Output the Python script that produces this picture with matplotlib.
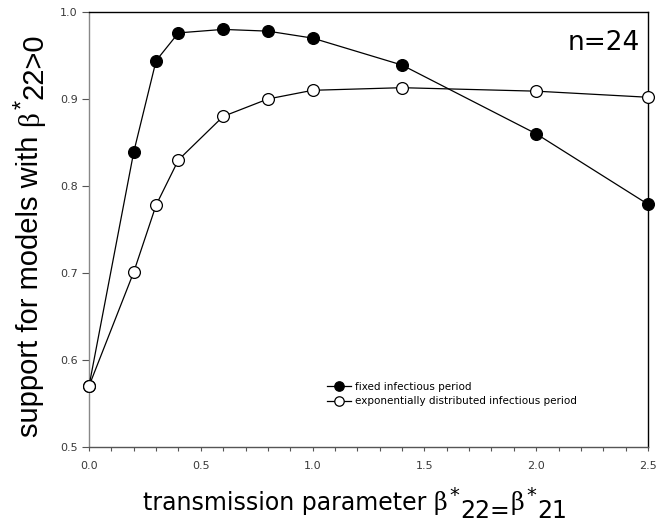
import matplotlib
matplotlib.use("Agg")
import matplotlib.pyplot as plt
from matplotlib.ticker import MultipleLocator
from matplotlib.transforms import IdentityTransform

plt.rcParams['font.family'] = ['DejaVu Sans']

x_vals = [0.0, 0.2, 0.3, 0.4, 0.6, 0.8, 1.0, 1.4, 2.0, 2.5]
fixed = [0.57, 0.839, 0.944, 0.976, 0.980, 0.978, 0.970, 0.939, 0.860, 0.779]
expo = [0.57, 0.701, 0.778, 0.830, 0.880, 0.900, 0.910, 0.913, 0.909, 0.902]
x_ticks = [0.0, 0.5, 1.0, 1.5, 2.0, 2.5]
y_ticks = [0.5, 0.6, 0.7, 0.8, 0.9, 1.0]
labels = ['fixed infectious period', 'exponentially distributed infectious period']

W, H = 658, 525
fig = plt.figure(figsize=(W / 100, H / 100), dpi=100)
ax = fig.add_axes([89 / W, 1 - 447 / H, (648 - 89) / W, (447 - 12) / H])

ax.plot(x_vals, fixed, '-o', color='black', lw=0.9, ms=8.5, mfc='black', mec='black',
        mew=0.9, label=labels[0], clip_on=False, zorder=3)
ax.plot(x_vals, expo, '-o', color='black', lw=0.9, ms=8.5, mfc='white', mec='black',
        mew=0.9, label=labels[1], clip_on=False, zorder=4)

ax.set_xlim(0, 2.5)
ax.set_ylim(0.5, 1.0)
ax.set_xticks(x_ticks)
ax.set_yticks(y_ticks)
ax.xaxis.set_minor_locator(MultipleLocator(0.1))
ax.tick_params(axis='both', which='both', direction='out', labelsize=8, labelcolor='#3a3a3a',
               color='#555555', width=0.8)
ax.tick_params(axis='x', which='both', length=3, pad=7)
ax.tick_params(axis='y', which='major', length=5, pad=3)
ax.spines['left'].set_color('#888888')
ax.spines['bottom'].set_color('#555555')
for s in ['top', 'right']:
    ax.spines[s].set_color('black')
for s in ax.spines.values():
    s.set_linewidth(1.0)

ax.text((640 - 89) / 559, (447 - 50) / 435, 'n=24', transform=ax.transAxes,
        ha='right', va='baseline', fontsize=19)

ax.legend(loc='upper left', bbox_to_anchor=(327 / W, 1 - 382 / H), bbox_transform=fig.transFigure,
          frameon=False, fontsize=7.5, borderpad=0, borderaxespad=0,
          handlelength=2.3, handletextpad=0.35, labelspacing=0.42, markerscale=0.8)

fig.canvas.draw()
rend = fig.canvas.get_renderer()

# x label: (text, raise_px, gap_after_px, family, size)
xpieces = [('transmission parameter', 0, 7, 'DejaVu Sans', 17),
           ('β', 0, 2, 'DejaVu Serif', 17),
           ('*', 9, 1, 'DejaVu Sans', 14),
           ('22=', -8, 1, 'DejaVu Sans', 17),
           ('β', 0, 2, 'DejaVu Serif', 17),
           ('*', 9, 1, 'DejaVu Sans', 14),
           ('21', -8, 0, 'DejaVu Sans', 17)]
cx, base = 143, 510
for s, dy, gap, fam, size in xpieces:
    t = fig.text(cx, H - base + dy, s, transform=IdentityTransform(), ha='left', va='baseline',
                 family=fam, fontsize=size)
    cx += t.get_window_extent(rend).width + gap

# y label (rotated): baseline at x=38, starts at y=437 going up
ypieces = [('support for models with', 0, 10, 'Liberation Sans', 21),
           ('β', 0, 2, 'Liberation Serif', 21),
           ('*', 9, 1, 'Liberation Sans', 17),
           ('22>0', -4, 0, 'Liberation Sans', 21)]
cy, xb = 437, 38
for s, dy, gap, fam, size in ypieces:
    t = fig.text(xb - dy, H - cy, s, transform=IdentityTransform(), rotation=90,
                 rotation_mode='anchor', ha='left', va='baseline', family=fam, fontsize=size)
    cy -= t.get_window_extent(rend).height + gap

fig.savefig('out.png', dpi=100)
